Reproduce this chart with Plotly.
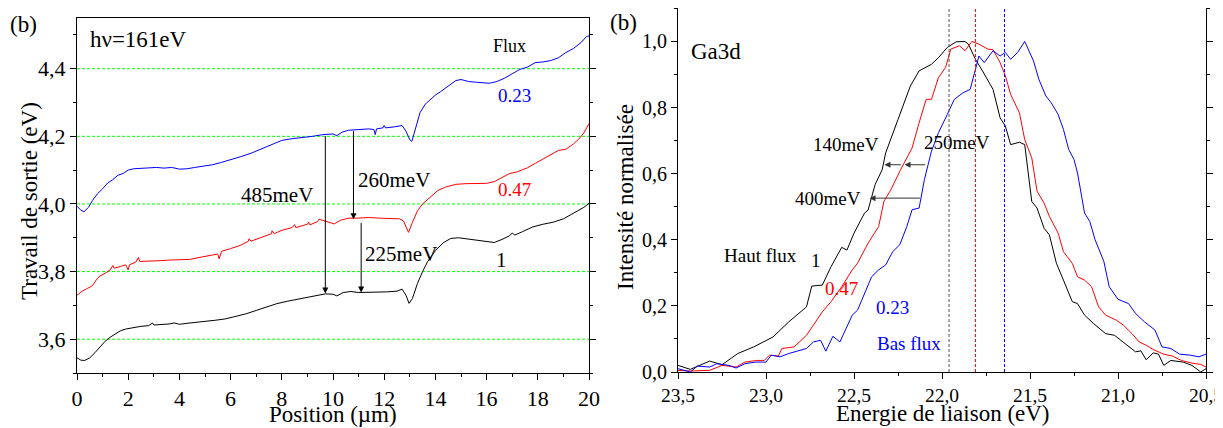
import plotly.graph_objects as go

# ---- left panel: work function vs position ----
pos_023 = [0.0, 0.15, 0.27, 0.45, 0.6, 0.8, 1.0, 1.2, 1.4, 1.6, 1.8, 2.0, 2.2, 2.5, 2.8, 3.1, 3.4, 3.7,
           4.0, 4.3, 4.6, 5.0, 5.3, 5.6, 6.0, 6.4, 6.8, 7.2, 7.6, 8.0, 8.4, 8.8, 9.2, 9.6, 10.0, 10.15,
           10.35, 10.6, 11.0, 11.4, 11.6, 11.65, 11.7, 11.95, 12.0, 12.05, 12.4, 12.7, 12.85, 13.0, 13.08,
           13.2, 13.4, 13.6, 13.8, 14.0, 14.2, 14.5, 14.8, 15.0, 15.3, 15.6, 15.9, 16.1, 16.4, 16.7, 17.0,
           17.3, 17.6, 17.9, 18.2, 18.5, 18.8, 19.1, 19.4, 19.7, 19.9, 20.0]
wf_023 = [3.993, 3.982, 3.977, 3.99, 4.01, 4.03, 4.045, 4.062, 4.072, 4.085, 4.09, 4.1, 4.104, 4.105,
          4.106, 4.108, 4.106, 4.108, 4.103, 4.104, 4.108, 4.112, 4.116, 4.122, 4.13, 4.14, 4.15, 4.162,
          4.176, 4.188, 4.193, 4.196, 4.2, 4.205, 4.207, 4.202, 4.212, 4.218, 4.22, 4.222, 4.22, 4.205,
          4.222, 4.225, 4.232, 4.225, 4.228, 4.232, 4.215, 4.19, 4.185, 4.215, 4.27, 4.295, 4.31, 4.322,
          4.332, 4.348, 4.365, 4.368, 4.362, 4.36, 4.358, 4.357, 4.362, 4.372, 4.385, 4.398, 4.405, 4.418,
          4.42, 4.424, 4.432, 4.448, 4.46, 4.478, 4.495, 4.497]

pos_047 = [0.0, 0.2, 0.4, 0.6, 0.75, 0.9, 1.1, 1.3, 1.4, 1.45, 1.7, 1.9, 2.0, 2.05, 2.3, 2.4, 2.45, 2.8,
           3.2, 3.6, 4.0, 4.4, 4.8, 5.2, 5.5, 5.55, 5.65, 6.0, 6.4, 6.7, 6.72, 6.8, 7.2, 7.6, 7.62, 7.7,
           8.0, 8.4, 8.5, 8.55, 9.0, 9.05, 9.1, 9.4, 9.45, 9.8, 10.05, 10.3, 10.6, 11.0, 11.4, 11.8, 12.2,
           12.6, 12.75, 12.9, 12.95, 13.1, 13.3, 13.5, 13.8, 14.1, 14.4, 14.8, 15.2, 15.6, 16.0, 16.3, 16.6,
           16.9, 17.2, 17.6, 17.9, 18.2, 18.5, 18.8, 19.1, 19.4, 19.6, 19.8, 20.0]
wf_047 = [3.73, 3.742, 3.75, 3.758, 3.775, 3.787, 3.795, 3.805, 3.818, 3.81, 3.815, 3.82, 3.805, 3.82,
          3.828, 3.842, 3.83, 3.83, 3.832, 3.834, 3.834, 3.836, 3.842, 3.848, 3.852, 3.838, 3.86, 3.868,
          3.878, 3.89, 3.897, 3.89, 3.9, 3.912, 3.921, 3.912, 3.922, 3.93, 3.939, 3.93, 3.94, 3.946, 3.938,
          3.948, 3.955, 3.948, 3.941, 3.952, 3.958, 3.958, 3.96, 3.958, 3.957, 3.956, 3.95, 3.92, 3.916,
          3.945, 3.98, 4.0, 4.02, 4.04, 4.05, 4.058, 4.06, 4.06, 4.061, 4.066, 4.078, 4.09, 4.095, 4.107,
          4.12, 4.133, 4.145, 4.158, 4.162, 4.178, 4.192, 4.21, 4.238]

pos_1 = [0.0, 0.15, 0.3, 0.5, 0.7, 0.9, 1.1, 1.3, 1.5, 1.7, 1.9, 2.2, 2.5, 2.8, 2.95, 3.0, 3.3, 3.6, 3.8,
         4.0, 4.3, 4.6, 5.0, 5.4, 5.8, 6.2, 6.6, 7.0, 7.4, 7.8, 8.2, 8.6, 9.0, 9.4, 9.7, 10.0, 10.15, 10.4,
         10.7, 11.0, 11.3, 11.7, 12.1, 12.5, 12.7, 12.85, 12.97, 13.1, 13.3, 13.5, 13.7, 14.0, 14.3, 14.6,
         14.9, 15.2, 15.6, 16.0, 16.3, 16.6, 16.9, 17.0, 17.1, 17.4, 17.8, 18.2, 18.6, 19.0, 19.3, 19.6,
         19.8, 20.0]
wf_1 = [3.545, 3.538, 3.537, 3.545, 3.56, 3.578, 3.594, 3.606, 3.615, 3.625, 3.63, 3.635, 3.638, 3.64,
        3.648, 3.642, 3.643, 3.645, 3.648, 3.644, 3.647, 3.649, 3.652, 3.656, 3.66, 3.667, 3.675, 3.685,
        3.695, 3.705, 3.712, 3.718, 3.723, 3.73, 3.734, 3.733, 3.728, 3.738, 3.741, 3.738, 3.738, 3.74,
        3.74, 3.742, 3.748, 3.73, 3.706, 3.72, 3.765, 3.8, 3.83, 3.862, 3.885, 3.898, 3.9, 3.897, 3.893,
        3.889, 3.886, 3.895, 3.906, 3.914, 3.908, 3.918, 3.932, 3.94, 3.946, 3.956, 3.968, 3.98, 3.99, 4.002]

# arrows (x, tail, head)
shift_x = [9.7, 10.8, 11.1]
shift_from = [4.205, 4.22, 3.948]
shift_to = [3.735, 3.955, 3.738]

# ---- right panel: Ga3d spectra ----
e_1 = [23.5, 23.43, 23.32, 23.25, 23.16, 23.07, 22.96, 22.87, 22.77, 22.74, 22.68, 22.63, 22.57, 22.54,
       22.5, 22.44, 22.42, 22.38, 22.34, 22.32, 22.25, 22.18, 22.13, 22.06, 22.02, 21.97, 21.92, 21.87,
       21.85, 21.81, 21.77, 21.71, 21.67, 21.64, 21.61, 21.56, 21.53, 21.49, 21.46, 21.42, 21.39, 21.35,
       21.31, 21.26, 21.23, 21.19, 21.14, 21.07, 21.02, 20.97, 20.9, 20.87, 20.84, 20.8, 20.77, 20.74,
       20.7, 20.63, 20.58, 20.53, 20.5]
i_1 = [0.02, 0.008, 0.033, 0.022, 0.056, 0.076, 0.106, 0.152, 0.197, 0.26, 0.263, 0.319, 0.377, 0.369,
       0.42, 0.481, 0.49, 0.567, 0.612, 0.663, 0.764, 0.865, 0.911, 0.931, 0.951, 0.982, 0.999, 1.0,
       0.992, 0.946, 0.911, 0.855, 0.769, 0.744, 0.688, 0.695, 0.688, 0.516, 0.496, 0.435, 0.415, 0.329,
       0.278, 0.213, 0.207, 0.172, 0.147, 0.116, 0.111, 0.091, 0.061, 0.064, 0.037, 0.058, 0.054, 0.02,
       0.035, 0.03, 0.02, 0.0, 0.01]

e_047 = [23.5, 23.43, 23.32, 23.25, 23.17, 23.12, 23.05, 23.01, 22.98, 22.93, 22.91, 22.84, 22.77, 22.73,
         22.68, 22.63, 22.57, 22.51, 22.48, 22.42, 22.36, 22.33, 22.29, 22.24, 22.2, 22.17, 22.13, 22.09,
         22.06, 22.02, 21.98, 21.95, 21.9, 21.87, 21.83, 21.79, 21.74, 21.71, 21.67, 21.64, 21.61, 21.56,
         21.53, 21.49, 21.46, 21.42, 21.39, 21.34, 21.31, 21.26, 21.23, 21.19, 21.15, 21.11, 21.07, 21.01,
         20.97, 20.92, 20.88, 20.84, 20.8, 20.74, 20.69, 20.64, 20.58, 20.53, 20.5]
i_047 = [0.005, 0.003, 0.005, 0.02, 0.015, 0.03, 0.035, 0.035, 0.051, 0.048, 0.071, 0.076, 0.111, 0.142,
         0.182, 0.213, 0.258, 0.309, 0.329, 0.39, 0.44, 0.516, 0.552, 0.607, 0.648, 0.678, 0.754, 0.825,
         0.825, 0.891, 0.921, 0.977, 0.987, 0.972, 1.0, 0.992, 0.977, 0.975, 0.936, 0.896, 0.84, 0.784,
         0.703, 0.648, 0.547, 0.511, 0.471, 0.42, 0.364, 0.329, 0.288, 0.278, 0.258, 0.197, 0.172, 0.157,
         0.142, 0.116, 0.091, 0.081, 0.068, 0.054, 0.048, 0.035, 0.027, 0.023, 0.015]

e_023 = [23.5, 23.43, 23.39, 23.32, 23.28, 23.21, 23.17, 23.12, 23.06, 23.0, 22.97, 22.92, 22.87, 22.77,
         22.73, 22.69, 22.66, 22.62, 22.58, 22.54, 22.51, 22.48, 22.44, 22.4, 22.36, 22.32, 22.28, 22.24,
         22.2, 22.17, 22.13, 22.1, 22.06, 22.02, 21.97, 21.93, 21.88, 21.84, 21.79, 21.76, 21.71, 21.67,
         21.64, 21.61, 21.57, 21.53, 21.48, 21.45, 21.41, 21.38, 21.34, 21.31, 21.28, 21.25, 21.23, 21.19,
         21.16, 21.13, 21.08, 21.05, 21.0, 20.94, 20.9, 20.85, 20.79, 20.75, 20.7, 20.65, 20.59, 20.54, 20.5]
i_023 = [0.01, 0.0, 0.018, 0.015, 0.025, 0.02, 0.012, 0.025, 0.03, 0.03, 0.051, 0.046, 0.056, 0.071,
         0.091, 0.096, 0.063, 0.108, 0.091, 0.137, 0.172, 0.187, 0.238, 0.288, 0.309, 0.324, 0.364, 0.385,
         0.44, 0.491, 0.496, 0.582, 0.668, 0.724, 0.779, 0.825, 0.845, 0.855, 0.956, 0.936, 0.972, 0.956,
         0.967, 0.946, 0.967, 1.0, 0.941, 0.886, 0.835, 0.815, 0.779, 0.734, 0.673, 0.643, 0.602, 0.481,
         0.455, 0.4, 0.334, 0.258, 0.22, 0.207, 0.177, 0.152, 0.127, 0.076, 0.071, 0.054, 0.051, 0.046, 0.054]

peak_e = [21.96, 21.81, 21.645]
peak_colors = ["#555555", "#ff0000", "#0000ff"]

# arrows right panel (y, tail, head)
arr_y = [0.627, 0.627, 0.526]
arr_from = [22.087, 22.225, 22.117]
arr_to = [22.213, 22.327, 22.412]

FONT = "Liberation Serif"
W, H = 1215, 420  # page body adds an 8px margin

# green dashed reference levels of the left panel
levels = [3.6, 3.8, 4.0, 4.2, 4.4]


def axis(size, **kw):
    d = dict(showline=True, linecolor="black", linewidth=1, ticks="outside", ticklen=6,
             tickcolor="black", zeroline=False, showgrid=False, automargin=False,
             ticklabeloverflow="allow", tickfont=dict(family=FONT, size=size, color="black"))
    d.update(kw)
    return d


def minor(dt):
    return dict(dtick=dt, ticks="outside", ticklen=3, tickcolor="black", showgrid=False)


fig = go.Figure()
for x, y, c in [(pos_023, wf_023, "blue"), (pos_047, wf_047, "red"), (pos_1, wf_1, "black")]:
    fig.add_trace(go.Scatter(x=x, y=y, mode="lines", line=dict(color=c, width=1),
                             xaxis="x", yaxis="y", showlegend=False))
for x, y, c in [(e_1, i_1, "black"), (e_047, i_047, "red"), (e_023, i_023, "blue")]:
    fig.add_trace(go.Scatter(x=x, y=y, mode="lines", line=dict(color=c, width=1),
                             xaxis="x2", yaxis="y2", showlegend=False))

fig.update_layout(
    width=W, height=H, margin=dict(l=0, r=0, t=0, b=0),
    paper_bgcolor="white", plot_bgcolor="white", separators=",.",
    font=dict(family=FONT, color="black"),
    xaxis=axis(22, domain=[69 / W, 581 / W], anchor="y", range=[0, 20], dtick=2, mirror=True,
               minor=minor(1)),
    yaxis=axis(22, domain=[1 - 365 / H, 1 - 10 / H], anchor="x", range=[3.5, 4.55], tick0=3.6,
               dtick=0.2, tickformat=".1f", mirror="ticks", minor=minor(0.1)),
    xaxis2=axis(19.5, domain=[670 / W, 1198 / W], anchor="y2", range=[23.5, 20.5], dtick=0.5,
                tickformat=".1f", mirror=True, minor=minor(0.25)),
    yaxis2=axis(20, domain=[1 - 364 / H, 0.999], anchor="x2", range=[0, 1.1], dtick=0.2,
                tickformat=".1f", mirror="ticks", minor=minor(0.1)),
)

for lv in levels:
    fig.add_shape(type="line", xref="x domain", yref="y", x0=0, x1=1, y0=lv, y1=lv, layer="below",
                  line=dict(color="#00ff00", width=1, dash="3px,2px"))

for xv, c in zip(peak_e, peak_colors):
    fig.add_shape(type="line", xref="x2", yref="y2 domain", x0=xv, x1=xv, y0=0, y1=1,
                  line=dict(color=c, width=1, dash="3px,2px"))

for xv, y0, y1 in zip(shift_x, shift_from, shift_to):
    fig.add_annotation(xref="x", yref="y", axref="x", ayref="y", x=xv, y=y1, ax=xv, ay=y0,
                       text="", showarrow=True, arrowhead=2, arrowsize=1.2, arrowwidth=1, arrowcolor="black")
for yv, x0, x1 in zip(arr_y, arr_from, arr_to):
    fig.add_annotation(xref="x2", yref="y2", axref="x2", ayref="y2", x=x1, y=yv, ax=x0, ay=yv,
                       text="", showarrow=True, arrowhead=2, arrowsize=1.2, arrowwidth=1, arrowcolor="#333333")


def label(text, x, y, xref, yref, size, color="black", xanchor="center", yanchor="middle", angle=0):
    fig.add_annotation(text=text, x=x, y=y, xref=xref, yref=yref, showarrow=False, xanchor=xanchor,
                       yanchor=yanchor, textangle=angle, font=dict(family=FONT, size=size, color=color))


# axis titles
label("Position (µm)", 325 / W, 1 - 406 / H, "paper", "paper", 23)
label("Energie de liaison (eV)", 935 / W, 1 - 405 / H, "paper", "paper", 23)
label("Travail de sortie (eV)", 22 / W, 1 - 193 / H, "paper", "paper", 23, angle=-90)
label("Intensité normalisée", 618 / W, 1 - 189 / H, "paper", "paper", 23, angle=-90)

label("(b)", 0.0, 1 - 17 / H, "paper", "paper", 23, xanchor="left")
label("(b)", 600 / W, 1.0, "paper", "paper", 23, xanchor="left", yanchor="top")
label("hν=161eV", 0.42, 4.485, "x", "y", 23, xanchor="left")
label("Flux", 16.9, 4.468, "x", "y", 18)
label("0.23", 17.1, 4.32, "x", "y", 19, "blue")
label("0.47", 17.1, 4.042, "x", "y", 19, "red")
label("1", 16.6, 3.835, "x", "y", 21)
label("485meV", 7.8, 4.027, "x", "y", 21)
label("260meV", 10.88, 4.071, "x", "y", 21, xanchor="left")
label("225meV", 11.16, 3.852, "x", "y", 21, xanchor="left")

label("Ga3d", 23.44, 0.97, "x2", "y2", 23, xanchor="left")
label("140meV", 22.545, 0.688, "x2", "y2", 19)
label("250meV", 21.915, 0.694, "x2", "y2", 19)
label("400meV", 22.647, 0.524, "x2", "y2", 19)
label("Haut flux", 23.03, 0.351, "x2", "y2", 19)
label("1", 22.715, 0.336, "x2", "y2", 19)
label("0.47", 22.57, 0.254, "x2", "y2", 19, "red")
label("0.23", 22.28, 0.196, "x2", "y2", 19, "blue")
label("Bas flux", 22.19, 0.087, "x2", "y2", 19, "blue")

fig.write_html("out.html")
